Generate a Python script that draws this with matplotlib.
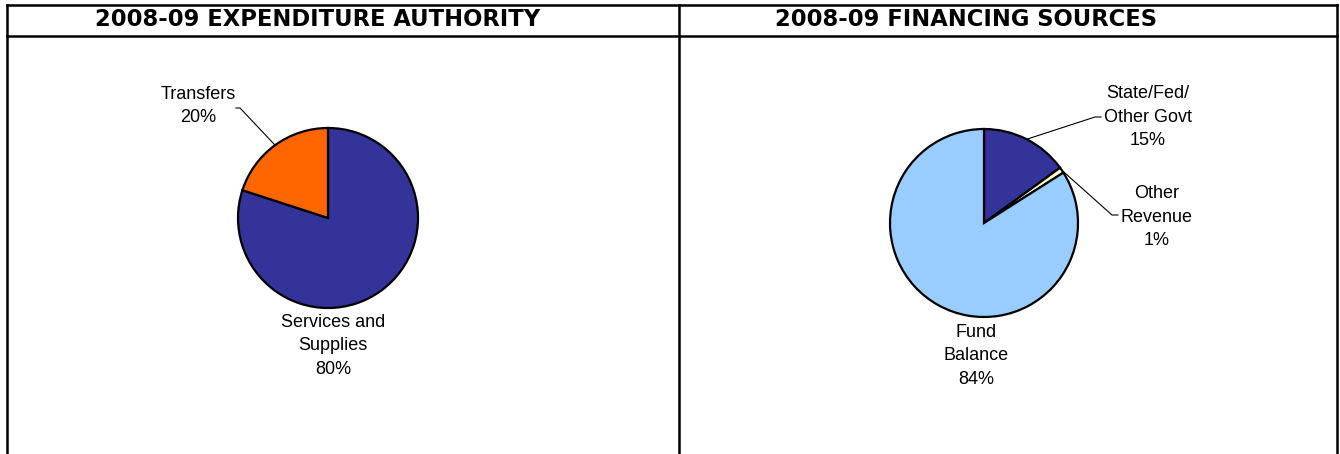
import matplotlib.pyplot as plt
import numpy as np

# Datos de los dos pasteles
gastos_labels = ["Services and\nSupplies\n80%", "Transfers\n20%"]
gastos_valores = [80, 20]
gastos_colores = ["#333399", "#FF6600"]

fuentes_labels = ["State/Fed/\nOther Govt\n15%", "Other\nRevenue\n1%", "Fund\nBalance\n84%"]
fuentes_valores = [15, 1, 84]
fuentes_colores = ["#333399", "#FFFFCC", "#99CCFF"]

titulos = ["2008-09 EXPENDITURE AUTHORITY", "2008-09 FINANCING SOURCES"]

W, H = 1340, 454


def Y(y):
    # pixeles desde arriba -> coordenada de datos
    return H - y


fig = plt.figure(figsize=(W / 100, H / 100), dpi=100)
ax = fig.add_axes([0, 0, 1, 1])

# Marco de la tabla
lw = 1.8
ax.plot([6.5, 1337], [Y(4.5), Y(4.5)], color="black", lw=lw)
ax.plot([6.5, 1337], [Y(35.5), Y(35.5)], color="black", lw=lw)
ax.plot([6.5, 6.5], [Y(4.5), Y(460)], color="black", lw=lw)
ax.plot([679, 679], [Y(4.5), Y(460)], color="black", lw=lw)
ax.plot([1337, 1337], [Y(4.5), Y(460)], color="black", lw=lw)

ax.text(318, Y(20), titulos[0], ha="center", va="center", fontsize=16.3,
        fontweight="bold", family="DejaVu Sans")
ax.text(966, Y(20), titulos[1], ha="center", va="center", fontsize=16.3,
        fontweight="bold", family="DejaVu Sans")

props = dict(edgecolor="black", linewidth=1.6)

w1, _ = ax.pie(gastos_valores, colors=gastos_colores, startangle=90,
               counterclock=False, center=(328, Y(218)), radius=90,
               wedgeprops=props, frame=True)
w2, _ = ax.pie(fuentes_valores, colors=fuentes_colores, startangle=90,
               counterclock=False, center=(984, Y(223)), radius=94,
               wedgeprops=props, frame=True)


def punto_medio(w):
    ang = np.deg2rad((w.theta1 + w.theta2) / 2)
    return w.center[0] + w.r * np.cos(ang), w.center[1] + w.r * np.sin(ang)


font = dict(family="Liberation Sans", fontsize=13, ha="center", va="center",
            linespacing=1.52)

# Etiquetas izquierda
ax.text(333, Y(346), gastos_labels[0], **font)
ax.text(198, Y(106), gastos_labels[1], **font)
x0, y0 = punto_medio(w1[1])
ax.plot([x0, 240, 236], [y0, Y(108), Y(108)], color="black", lw=0.8)

# Etiquetas derecha
ax.text(1148, Y(117), fuentes_labels[0], **font)
ax.text(1157, Y(217), fuentes_labels[1], **font)
ax.text(976, Y(356), fuentes_labels[2], **font)
x0, y0 = punto_medio(w2[0])
ax.plot([x0, 1095, 1101], [y0, Y(117), Y(117)], color="black", lw=0.8)
x0, y0 = punto_medio(w2[1])
ax.plot([x0, 1112, 1118], [y0, Y(215), Y(215)], color="black", lw=0.8)

ax.set_xlim(0, W)
ax.set_ylim(0, H)
ax.set_aspect("auto")
ax.axis("off")

plt.savefig("out.png", dpi=100)
